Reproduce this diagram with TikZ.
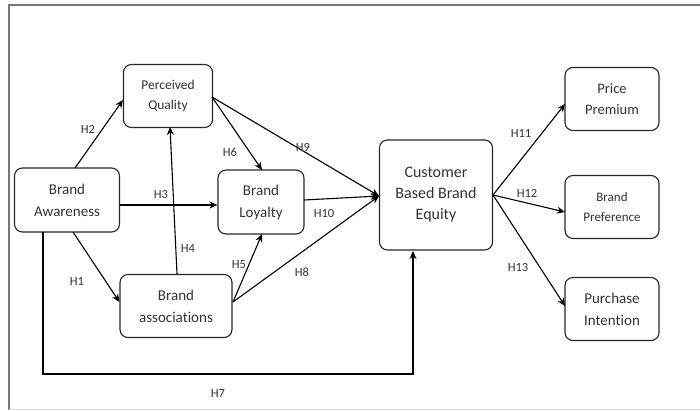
\documentclass[tikz,border=0pt]{standalone}
\usepackage{fontspec}
\setmainfont{Carlito}[Ligatures=NoCommon]
\usetikzlibrary{arrows.meta}
\definecolor{txt}{HTML}{333333}
\definecolor{frame}{HTML}{777777}
\begin{document}
\begin{tikzpicture}[x=1pt,y=-1pt,
  box/.style={draw=black!85, line width=1.1pt, rounded corners=8pt, align=center, inner sep=0pt, text=txt, font=\fontsize{15}{22}\selectfont},
  lab/.style={text=txt, font=\fontsize{12.5}{14}\selectfont, inner sep=0pt},
  arr/.style={line width=1.1pt, -{Stealth[length=8pt,width=7pt]}}]
\useasboundingbox (0,0) rectangle (700,410);
% frame
\draw[frame, line width=1.5pt] (9,410) -- (9,5) -- (700,5);
\draw[black!15, line width=1pt] (9,409) -- (700,409);
% nodes
\node[box, minimum width=105pt, minimum height=64pt] (ba) at (67,200) {Brand\\Awareness};
\node[box, minimum width=89pt, minimum height=63pt, font=\fontsize{13.5}{20}\selectfont] (pq) at (168,96) {Perceived\\Quality};
\node[box, minimum width=86pt, minimum height=64pt] (bl) at (261,202) {Brand\\Loyalty};
\node[box, minimum width=112pt, minimum height=63pt] (bas) at (176,306) {Brand\\associations};
\node[box, minimum width=113pt, minimum height=110pt, font=\fontsize{16}{21}\selectfont] (cbbe) at (436,195) {Customer\\Based Brand\\Equity};
\node[box, minimum width=94pt, minimum height=63pt, font=\fontsize{14.5}{21}\selectfont] (pp) at (612,99) {Price\\Premium};
\node[box, minimum width=94pt, minimum height=63pt, font=\fontsize{13}{20}\selectfont] (bp) at (612,207) {Brand\\Preference};
\node[box, minimum width=94pt, minimum height=63pt] (pi) at (612,309) {Purchase\\Intention};
% coordinates
\coordinate (cin) at (379,196);
\coordinate (c7a) at (43,374);
\coordinate (c7b) at (413,374);
% edges
\draw[arr] (75,168) -- (pq.west |- 0,100);
\draw[arr] (73,232) -- (bas.west |- 0,302);
\draw[arr] (ba.east |- 0,205) -- (bl.west |- 0,205);
\draw[arr] (177,274) -- (170,127);
\draw[arr] (212,97) -- (262,170);
\draw[arr] (212,97) -- (cin);
\draw[arr] (233,302) -- (262,234);
\draw[arr] (233,302) -- (cin);
\draw[arr] (304,200) -- (cin);
\draw[arr] (43,232) -- (c7a) -- (c7b) -- (413,251);
\draw[arr] (493,195) -- (565,104);
\draw[arr] (493,195) -- (565,212);
\draw[arr] (493,195) -- (565,306);
% labels
\node[lab] (l2) at (88,129) {H2};
\node[lab] (l1) at (77,281) {H1};
\node[lab] (l3) at (161,194) {H3};
\node[lab] (l4) at (188,248) {H4};
\node[lab] (l6) at (230,152) {H6};
\node[lab] (l9) at (303,147) {H9};
\node[lab] (l5) at (239,265) {H5};
\node[lab] (l8) at (302,272) {H8};
\node[lab] (l10) at (324,213) {H10};
\node[lab] (l7) at (218,393) {H7};
\node[lab] (l11) at (521,133) {H11};
\node[lab] (l12) at (527,193) {H12};
\node[lab] (l13) at (518,267) {H13};
\end{tikzpicture}
\end{document}
